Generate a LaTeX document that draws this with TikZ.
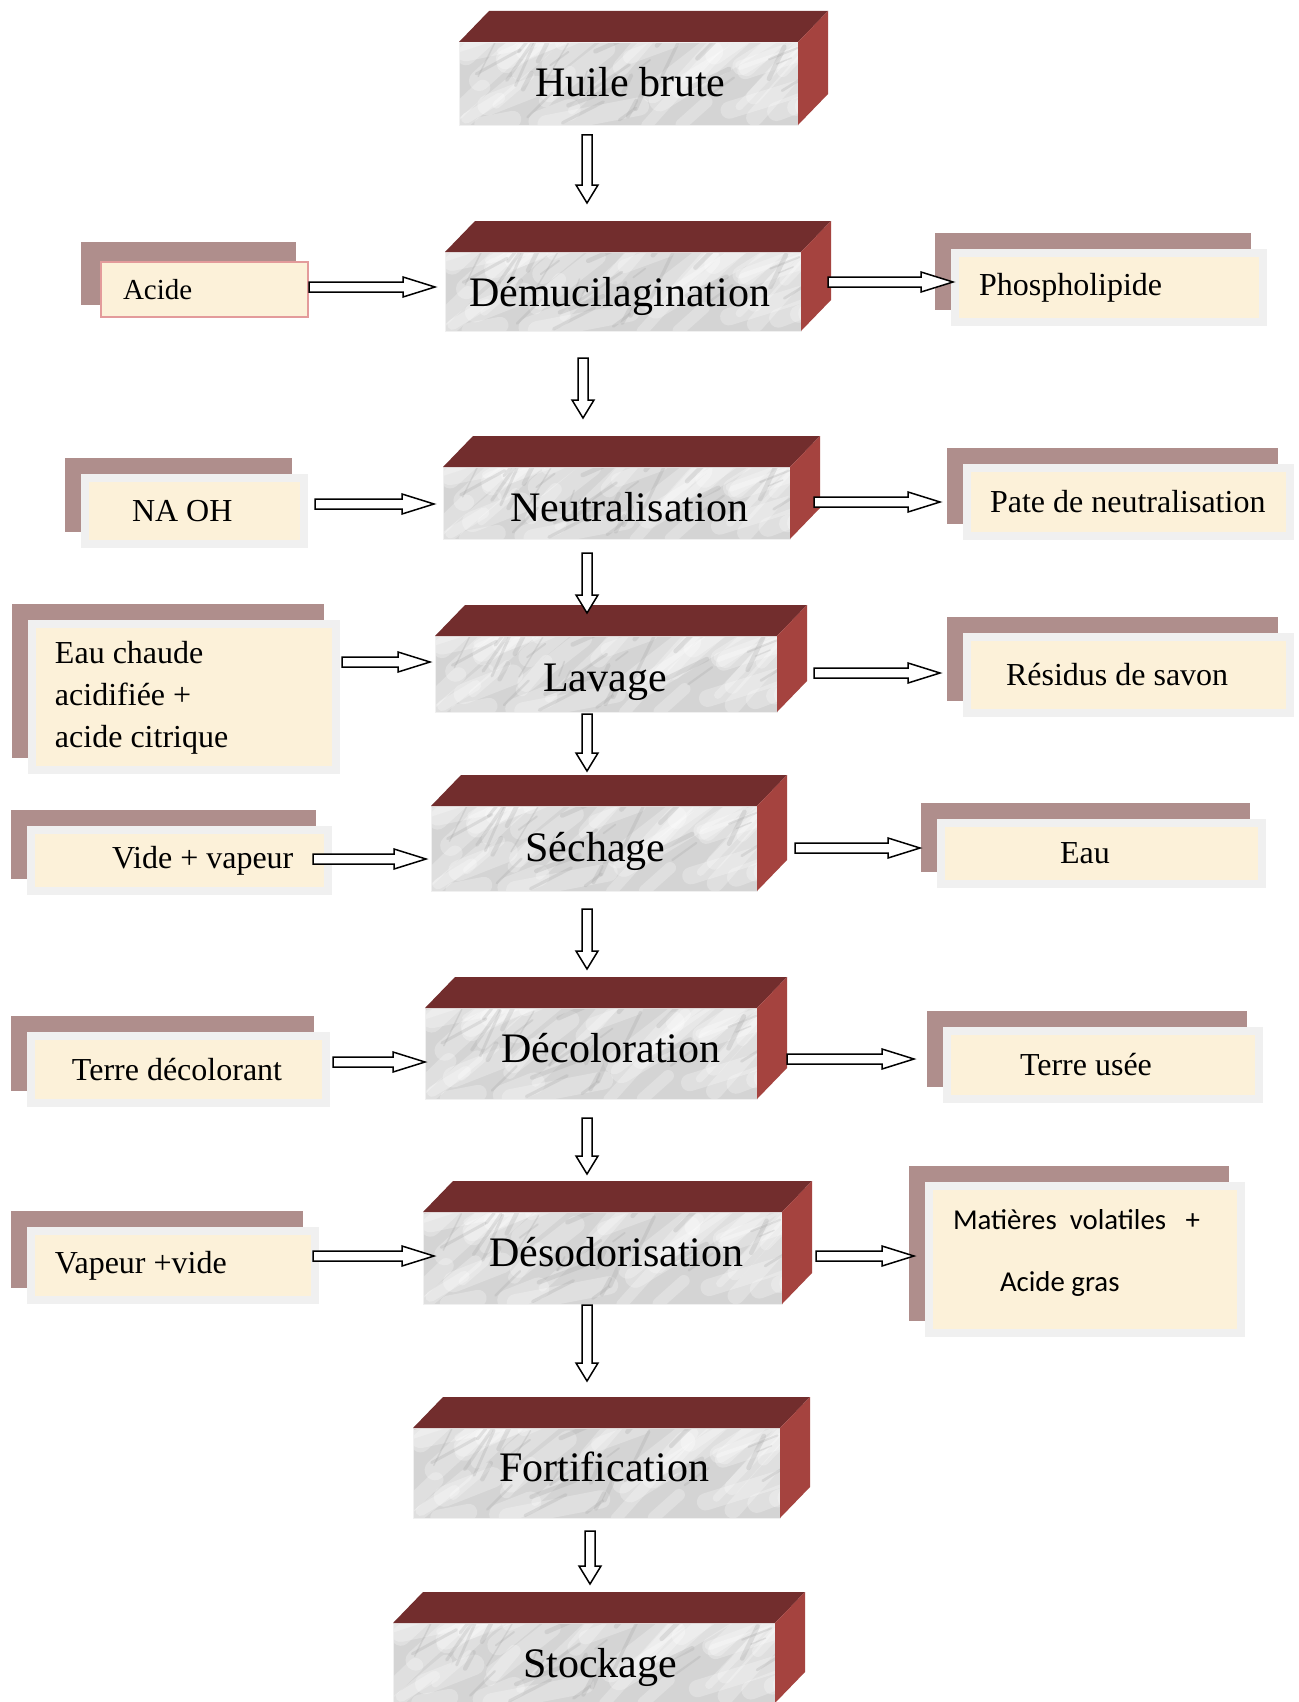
\documentclass[tikz,border=0pt]{standalone}
\usepackage{fontspec}
\setmainfont{Liberation Serif}
\newfontfamily\carl{Carlito}
\usetikzlibrary{calc,shadows}

\definecolor{topc}{HTML}{722D2D}
\definecolor{sidec}{HTML}{A5433F}
\definecolor{shadc}{HTML}{AF8E8C}
\definecolor{cream}{HTML}{FCF1D9}
\definecolor{brd}{HTML}{F0F0F0}
\definecolor{pinkb}{HTML}{E39B9B}
\definecolor{marb}{HTML}{D4D4D4}

\newcommand\lt[3]{\makebox[#1][l]{\hspace*{#2}#3}}

\newcommand\marbletex{%
  \pgfmathsetseed{17}%
  \foreach \k in {1,...,45}{%
    \pgfmathsetmacro\mxa{1.1*rnd-0.05}\pgfmathsetmacro\mya{1.1*rnd-0.05}%
    \pgfmathsetmacro\mlen{15+55*rnd}\pgfmathsetmacro\mang{10+40*rnd}\pgfmathsetmacro\mwid{3+8*rnd}%
    \draw[white, line width=\mwid pt, opacity=.28, line cap=round]
      let \p1=(path picture bounding box.south west), \p2=(path picture bounding box.north east) in
      ({\x1+\mxa*(\x2-\x1)},{\y1+\mya*(\y2-\y1)}) -- ++({\mlen*cos(\mang)*1pt},{\mlen*sin(\mang)*1pt});
  }%
  \foreach \k in {1,...,30}{%
    \pgfmathsetmacro\mxa{rnd}\pgfmathsetmacro\mya{rnd}%
    \pgfmathsetmacro\mlen{6+22*rnd}\pgfmathsetmacro\mang{20+50*rnd}\pgfmathsetmacro\mwid{0.6+1.8*rnd}%
    \draw[gray!80, line width=\mwid pt, opacity=.22, line cap=round]
      let \p1=(path picture bounding box.south west), \p2=(path picture bounding box.north east) in
      ({\x1+\mxa*(\x2-\x1)},{\y1+\mya*(\y2-\y1)}) -- ++({\mlen*cos(\mang)*1pt},{\mlen*sin(\mang)*1pt});
  }%
}

\newcommand\faces[1]{%
  \fill[topc] (#1.north west) -- ([shift={(15pt,15.5pt)}]#1.north west) -- ([shift={(15pt,15.5pt)}]#1.north east) -- (#1.north east) -- cycle;
  \fill[sidec] (#1.north east) -- ([shift={(15pt,15.5pt)}]#1.north east) -- ([shift={(15pt,15.5pt)}]#1.south east) -- (#1.south east) -- cycle;}

\newcommand\harrow[2]{\draw[blk] let \p1=#1, \p2=#2 in
  ({\x1},{\y1+2.5pt}) -- ({\x2-16pt},{\y1+2.5pt}) -- ({\x2-16pt},{\y1+5pt}) -- ({\x2},{\y1}) -- ({\x2-16pt},{\y1-5pt}) -- ({\x2-16pt},{\y1-2.5pt}) -- ({\x1},{\y1-2.5pt}) -- cycle;}

\newcommand\varrow[2]{\draw[blk] let \p1=#1, \p2=#2 in
  ({\x1-2.5pt},{\y1}) -- ({\x1-2.5pt},{\y2+9pt}) -- ({\x1-5.5pt},{\y2+9pt}) -- ({\x1},{\y2}) -- ({\x1+5.5pt},{\y2+9pt}) -- ({\x1+2.5pt},{\y2+9pt}) -- ({\x1+2.5pt},{\y1}) -- cycle;}

\tikzset{
  mainf/.style={draw=gray!12, line width=0.4pt, fill=marb, inner sep=0pt, outer sep=0pt,
    font=\fontsize{21}{25}\selectfont, path picture={\marbletex}},
  sidef/.style={draw=brd, line width=4pt, fill=cream, inner sep=0pt, outer sep=0pt,
    font=\fontsize{16}{21}\selectfont,
    general shadow={fill=shadc, draw=shadc, line width=4pt, shadow xshift=-8pt, shadow yshift=8pt}},
  blk/.style={draw=black, fill=white, line width=0.75pt, line join=miter},
}

\begin{document}
\begin{tikzpicture}[x=0.5pt, y=-0.5pt]
\useasboundingbox (0,0) rectangle (1299,1702);
\clip (0,0) rectangle (1299,1702);
\fill[white] (0,0) rectangle (1299,1702);

% side boxes
\node[sidef, draw=pinkb, line width=1pt, general shadow={fill=shadc, draw=shadc, line width=1pt, shadow xshift=-8.5pt, shadow yshift=8pt}, minimum height=27.5pt] (acide) at (204.5,289.5) {\lt{103.5pt}{11pt}{\fontsize{14.5}{17}\selectfont Acide}};
\node[sidef, minimum height=34.5pt] (phos) at (1109,287.5) {\lt{154pt}{12pt}{Phospholipide}};
\node[sidef, minimum height=33pt] (naoh) at (194.5,511) {\lt{109.5pt}{23.5pt}{NA OH}};
\node[sidef, minimum height=34pt] (pate) at (1128.5,502) {\lt{161.5pt}{11.5pt}{Pate de neutralisation}};
\node[sidef, minimum height=73pt] (eauch) at (184,697) {\lt{152pt}{11.5pt}{\begin{tabular}{@{}l@{}}Eau chaude\\acidifiée +\\acide citrique\end{tabular}}};
\node[sidef, minimum height=38pt] (resid) at (1128.5,675) {\lt{161.5pt}{19.5pt}{Résidus de savon}};
\node[sidef, minimum height=30.5pt] (vide) at (179.5,860.5) {\lt{148.5pt}{40.5pt}{Vide + vapeur}};
\node[sidef, minimum height=30.5pt] (eau) at (1101.5,853.5) {\lt{160.5pt}{59.5pt}{Eau}};
\node[sidef, minimum height=33.5pt] (terred) at (178.5,1069.5) {\lt{147.5pt}{20.5pt}{Terre décolorant}};
\node[sidef, minimum height=34pt] (terreu) at (1103,1065) {\lt{156pt}{36.5pt}{Terre usée}};
\node[sidef, minimum height=34.5pt] (vapeur) at (173,1265.5) {\lt{142pt}{12pt}{Vapeur +vide}};
\node[sidef, minimum height=73.5pt] (matieres) at (1085,1259.5) {\lt{156pt}{12pt}{\carl\fontsize{14.4}{31}\selectfont\begin{tabular}{@{}l@{}}Matières\ \ volatiles\ \ \ +\\\hspace*{23.5pt}Acide gras\\[11pt]\end{tabular}}};

% main process boxes
\node[mainf, minimum width=169.5pt, minimum height=41.5pt, text height=16.5pt, text depth=3.5pt] (huile) at (628.5,83.5) {\hspace*{2pt}Huile brute};
\node[mainf, minimum width=178pt, minimum height=39.5pt, text height=17.5pt, text depth=2.5pt] (demuc) at (623,291.5) {\hspace*{-3.5pt}Démucilagination};
\node[mainf, minimum width=173.5pt, minimum height=36pt, text height=19.25pt, text depth=0.75pt] (neutral) at (616.5,503) {\hspace*{12.5pt}Neutralisation};
\node[mainf, minimum width=171pt, minimum height=38pt, text height=18.5pt, text depth=1.5pt] (lavage) at (606,674) {\hspace*{-1pt}Lavage};
\node[mainf, minimum width=163pt, minimum height=42.5pt, text height=16.25pt, text depth=3.75pt] (sechage) at (594,848.5) {\hspace*{1.5pt}Séchage};
\node[mainf, minimum width=166pt, minimum height=45.5pt, text height=14.25pt, text depth=5.75pt] (decol) at (591,1053.5) {\hspace*{20pt}Décoloration};
\node[mainf, minimum width=179.5pt, minimum height=46pt, text height=14pt, text depth=6pt] (desodo) at (602.5,1258) {\hspace*{14pt}Désodorisation};
\node[mainf, minimum width=183.5pt, minimum height=45pt, text height=14pt, text depth=6pt] (fortif) at (596.5,1473) {\hspace*{7.5pt}Fortification};
\node[mainf, minimum width=191pt, minimum height=40pt, text height=17pt, text depth=3pt] (stock) at (584,1663) {\hspace*{16pt}Stockage};

\faces{huile}\faces{demuc}\faces{neutral}\faces{lavage}\faces{sechage}
\faces{decol}\faces{desodo}\faces{fortif}\faces{stock}

% connectors
\varrow{($(huile.south)+(-41.5,10)$)}{($(demuc.north)+(0,-49)$)}
\harrow{($(acide.east)+(1,-2.5)$)}{($(demuc.west)+(-10,0)$)}
\harrow{($(demuc.east)+(27,-9.5)$)}{($(phos.west)+(-2,0)$)}
\varrow{($(demuc.south)+(-40,27)$)}{($(neutral.north)+(0,-49)$)}
\harrow{($(naoh.east)+(11,-7)$)}{($(neutral.west)+(-9,0)$)}
\harrow{($(neutral.east)+(24,-1)$)}{($(pate.west)+(-27,0)$)}
\varrow{($(neutral.south)+(-29.5,14)$)}{($(lavage.north)+(0,-23)$)}
\harrow{($(eauch.east)+(6,-35)$)}{($(lavage.west)+(-5,0)$)}
\harrow{($(lavage.east)+(37,-1)$)}{($(resid.west)+(-27,0)$)}
\varrow{($(lavage.south)+(-19,2)$)}{($(sechage.north)+(0,-35)$)}
\harrow{($(vide.east)+(-15,-1.5)$)}{($(sechage.west)+(-5,0)$)}
\harrow{($(sechage.east)+(38,-0.5)$)}{($(eau.west)+(-21,0)$)}
\varrow{($(sechage.south)+(-7,18)$)}{($(decol.north)+(0,-39)$)}
\harrow{($(terred.east)+(7,-7.5)$)}{($(decol.west)+(0,0)$)}
\harrow{($(decol.east)+(30,5.5)$)}{($(terreu.west)+(-33,0)$)}
\varrow{($(decol.south)+(-4,19)$)}{($(desodo.north)+(0,-38)$)}
\harrow{($(vapeur.east)+(-2,-9.5)$)}{($(desodo.west)+(11,0)$)}
\harrow{($(desodo.east)+(34,-2)$)}{($(matieres.west)+(-15,0)$)}
\varrow{($(desodo.south)+(-15.5,1)$)}{($(fortif.north)+(0,-47)$)}
\varrow{($(fortif.south)+(-6.5,13)$)}{($(stock.north)+(0,-39)$)}
\end{tikzpicture}
\end{document}
